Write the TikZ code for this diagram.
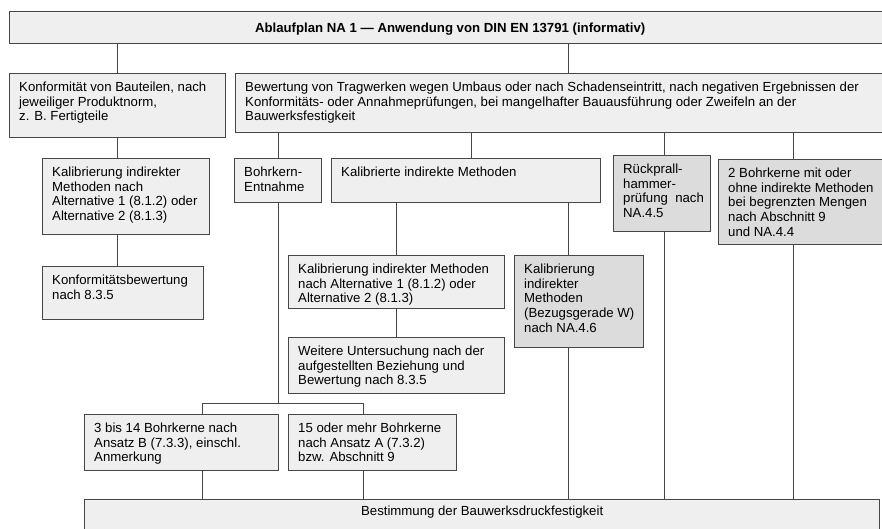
\documentclass[tikz,border=0pt]{standalone}
\usepackage{fontspec}
\setmainfont{Liberation Sans}
\usetikzlibrary{positioning,calc}
\definecolor{boxgray}{HTML}{EFEFEF}
\definecolor{boxdark}{HTML}{DCDCDC}
\definecolor{edge}{HTML}{464646}

\begin{document}
\begin{tikzpicture}[x=1pt,y=-1pt,
    box/.style={rectangle,draw=edge,line width=1.3pt,fill=boxgray,anchor=north west,inner sep=0pt},
    dbox/.style={box,fill=boxdark},
    txt/.style={anchor=north west,align=left,inner xsep=10pt,inner ysep=9pt,font=\fontsize{13.2}{14.6}\selectfont},
    link/.style={draw=edge,line width=1pt}]
    \useasboundingbox (0,0) rectangle (882,528);
    \clip (0,0) rectangle (882,528);
    \fill[white] (0,0) rectangle (882,528);

    % Header
    \node[box,minimum width=881,minimum height=32] (head) at (9,11) {};
    \node[font=\fontsize{13.2}{14.6}\selectfont\bfseries] (head-t) at ($(head.center)+(0,1)$) {Ablaufplan NA 1 — Anwendung von DIN EN 13791 (informativ)};

    % First row
    \node[box,minimum width=216,minimum height=64] (konf) at (9,73) {};
    \node[txt] (konf-t) at (konf.north west) {Konformität von Bauteilen, nach\\jeweiliger Produktnorm,\\z. B. Fertigteile};
    \node[box,minimum width=655,minimum height=59] (bew) at (235,73) {};
    \node[txt] (bew-t) at (bew.north west) {Bewertung von Tragwerken wegen Umbaus oder nach Schadenseintritt, nach negativen Ergebnissen der\\Konformitäts- oder Annahmeprüfungen, bei mangelhafter Bauausführung oder Zweifeln an der\\Bauwerksfestigkeit};
    \draw[link] (head.south -| konf.north) -- (konf.north);
    \draw[link] (568,0 |- head.south) -- (568,0 |- bew.north);

    % Left column
    \node[box,minimum width=167,minimum height=76] (kal1) at (42,158) {};
    \node[txt] (kal1-t) at (kal1.north west) {Kalibrierung indirekter\\Methoden nach\\Alternative 1 (8.1.2) oder\\Alternative 2 (8.1.3)};
    \node[box,minimum width=161,minimum height=53] (konfbew) at (42,266) {};
    \node[txt] (konfbew-t) at (konfbew.north west) {Konformitätsbewertung\\nach 8.3.5};
    \draw[link] (konf.south) -- (konf.south |- kal1.north);
    \draw[link] (konf.south |- kal1.south) -- (konf.south |- konfbew.north);

    % Second row
    \node[box,minimum width=87,minimum height=44] (bohr) at (234,158) {};
    \node[txt] (bohr-t) at (bohr.north west) {Bohrkern-\\Entnahme};
    \node[box,minimum width=269,minimum height=44] (kalib) at (331,158) {};
    \node[txt] (kalib-t) at (kalib.north west) {Kalibrierte indirekte Methoden};
    \node[dbox,minimum width=97,minimum height=76] (rueck) at (613,155) {};
    \node[txt] (rueck-t) at (rueck.north west) {Rückprall-\\hammer-\\prüfung\ \ nach\\NA.4.5};
    \node[dbox,minimum width=172,minimum height=85] (zwei) at (718,159) {};
    \node[txt] (zwei-t) at (zwei.north west) {2 Bohrkerne mit oder\\ohne indirekte Methoden\\bei begrenzten Mengen\\nach Abschnitt 9\\und NA.4.4};
    \draw[link] (278,0 |- bew.south) -- (278,0 |- bohr.north);
    \draw[link] (471,0 |- bew.south) -- (471,0 |- kalib.north);
    \draw[link] (664,0 |- bew.south) -- (664,0 |- rueck.north);
    \draw[link] (793,0 |- bew.south) -- (793,0 |- zwei.north);

    % Calibrated methods
    \node[box,minimum width=216,minimum height=53] (kal2) at (288,255) {};
    \node[txt] (kal2-t) at (kal2.north west) {Kalibrierung indirekter Methoden\\nach Alternative 1 (8.1.2) oder\\Alternative 2 (8.1.3)};
    \node[dbox,minimum width=129,minimum height=92] (bezug) at (514,255) {};
    \node[txt] (bezug-t) at (bezug.north west) {Kalibrierung\\indirekter\\Methoden\\(Bezugsgerade W)\\nach NA.4.6};
    \node[box,minimum width=216,minimum height=56] (weiter) at (288,337) {};
    \node[txt] (weiter-t) at (weiter.north west) {Weitere Untersuchung nach der\\aufgestellten Beziehung und\\Bewertung nach 8.3.5};
    \draw[link] (kal2.north |- kalib.south) -- (kal2.north);
    \draw[link] (568,0 |- kalib.south) -- (568,0 |- bezug.north);
    \draw[link] (kal2.south) -- (weiter.north);

    % Core counts
    \node[box,minimum width=194,minimum height=56] (drei) at (84,414) {};
    \node[txt] (drei-t) at (drei.north west) {3 bis 14 Bohrkerne nach\\Ansatz B (7.3.3), einschl.\\Anmerkung};
    \node[box,minimum width=168,minimum height=56] (fuenf) at (288,414) {};
    \node[txt] (fuenf-t) at (fuenf.north west) {15 oder mehr Bohrkerne\\nach Ansatz A (7.3.2)\\bzw. Abschnitt 9};
    \coordinate (split) at (278,403);
    \draw[link] (278,0 |- bohr.south) -- (split);
    \draw[link] (202,0 |- drei.north) |- (363,0 |- split) -- (363,0 |- fuenf.north);

    % Result
    \node[box,minimum width=795,minimum height=45] (bot) at (84,499) {};
    \node[anchor=north,inner ysep=7pt,font=\fontsize{13.2}{14.6}\selectfont] (bot-t) at (bot.north) {Bestimmung der Bauwerksdruckfestigkeit};
    \draw[link] (202,0 |- drei.south) -- (202,0 |- bot.north);
    \draw[link] (363,0 |- fuenf.south) -- (363,0 |- bot.north);
    \draw[link] (568,0 |- bezug.south) -- (568,0 |- bot.north);
    \draw[link] (664,0 |- rueck.south) -- (664,0 |- bot.north);
    \draw[link] (793,0 |- zwei.south) -- (793,0 |- bot.north);
\end{tikzpicture}
\end{document}
